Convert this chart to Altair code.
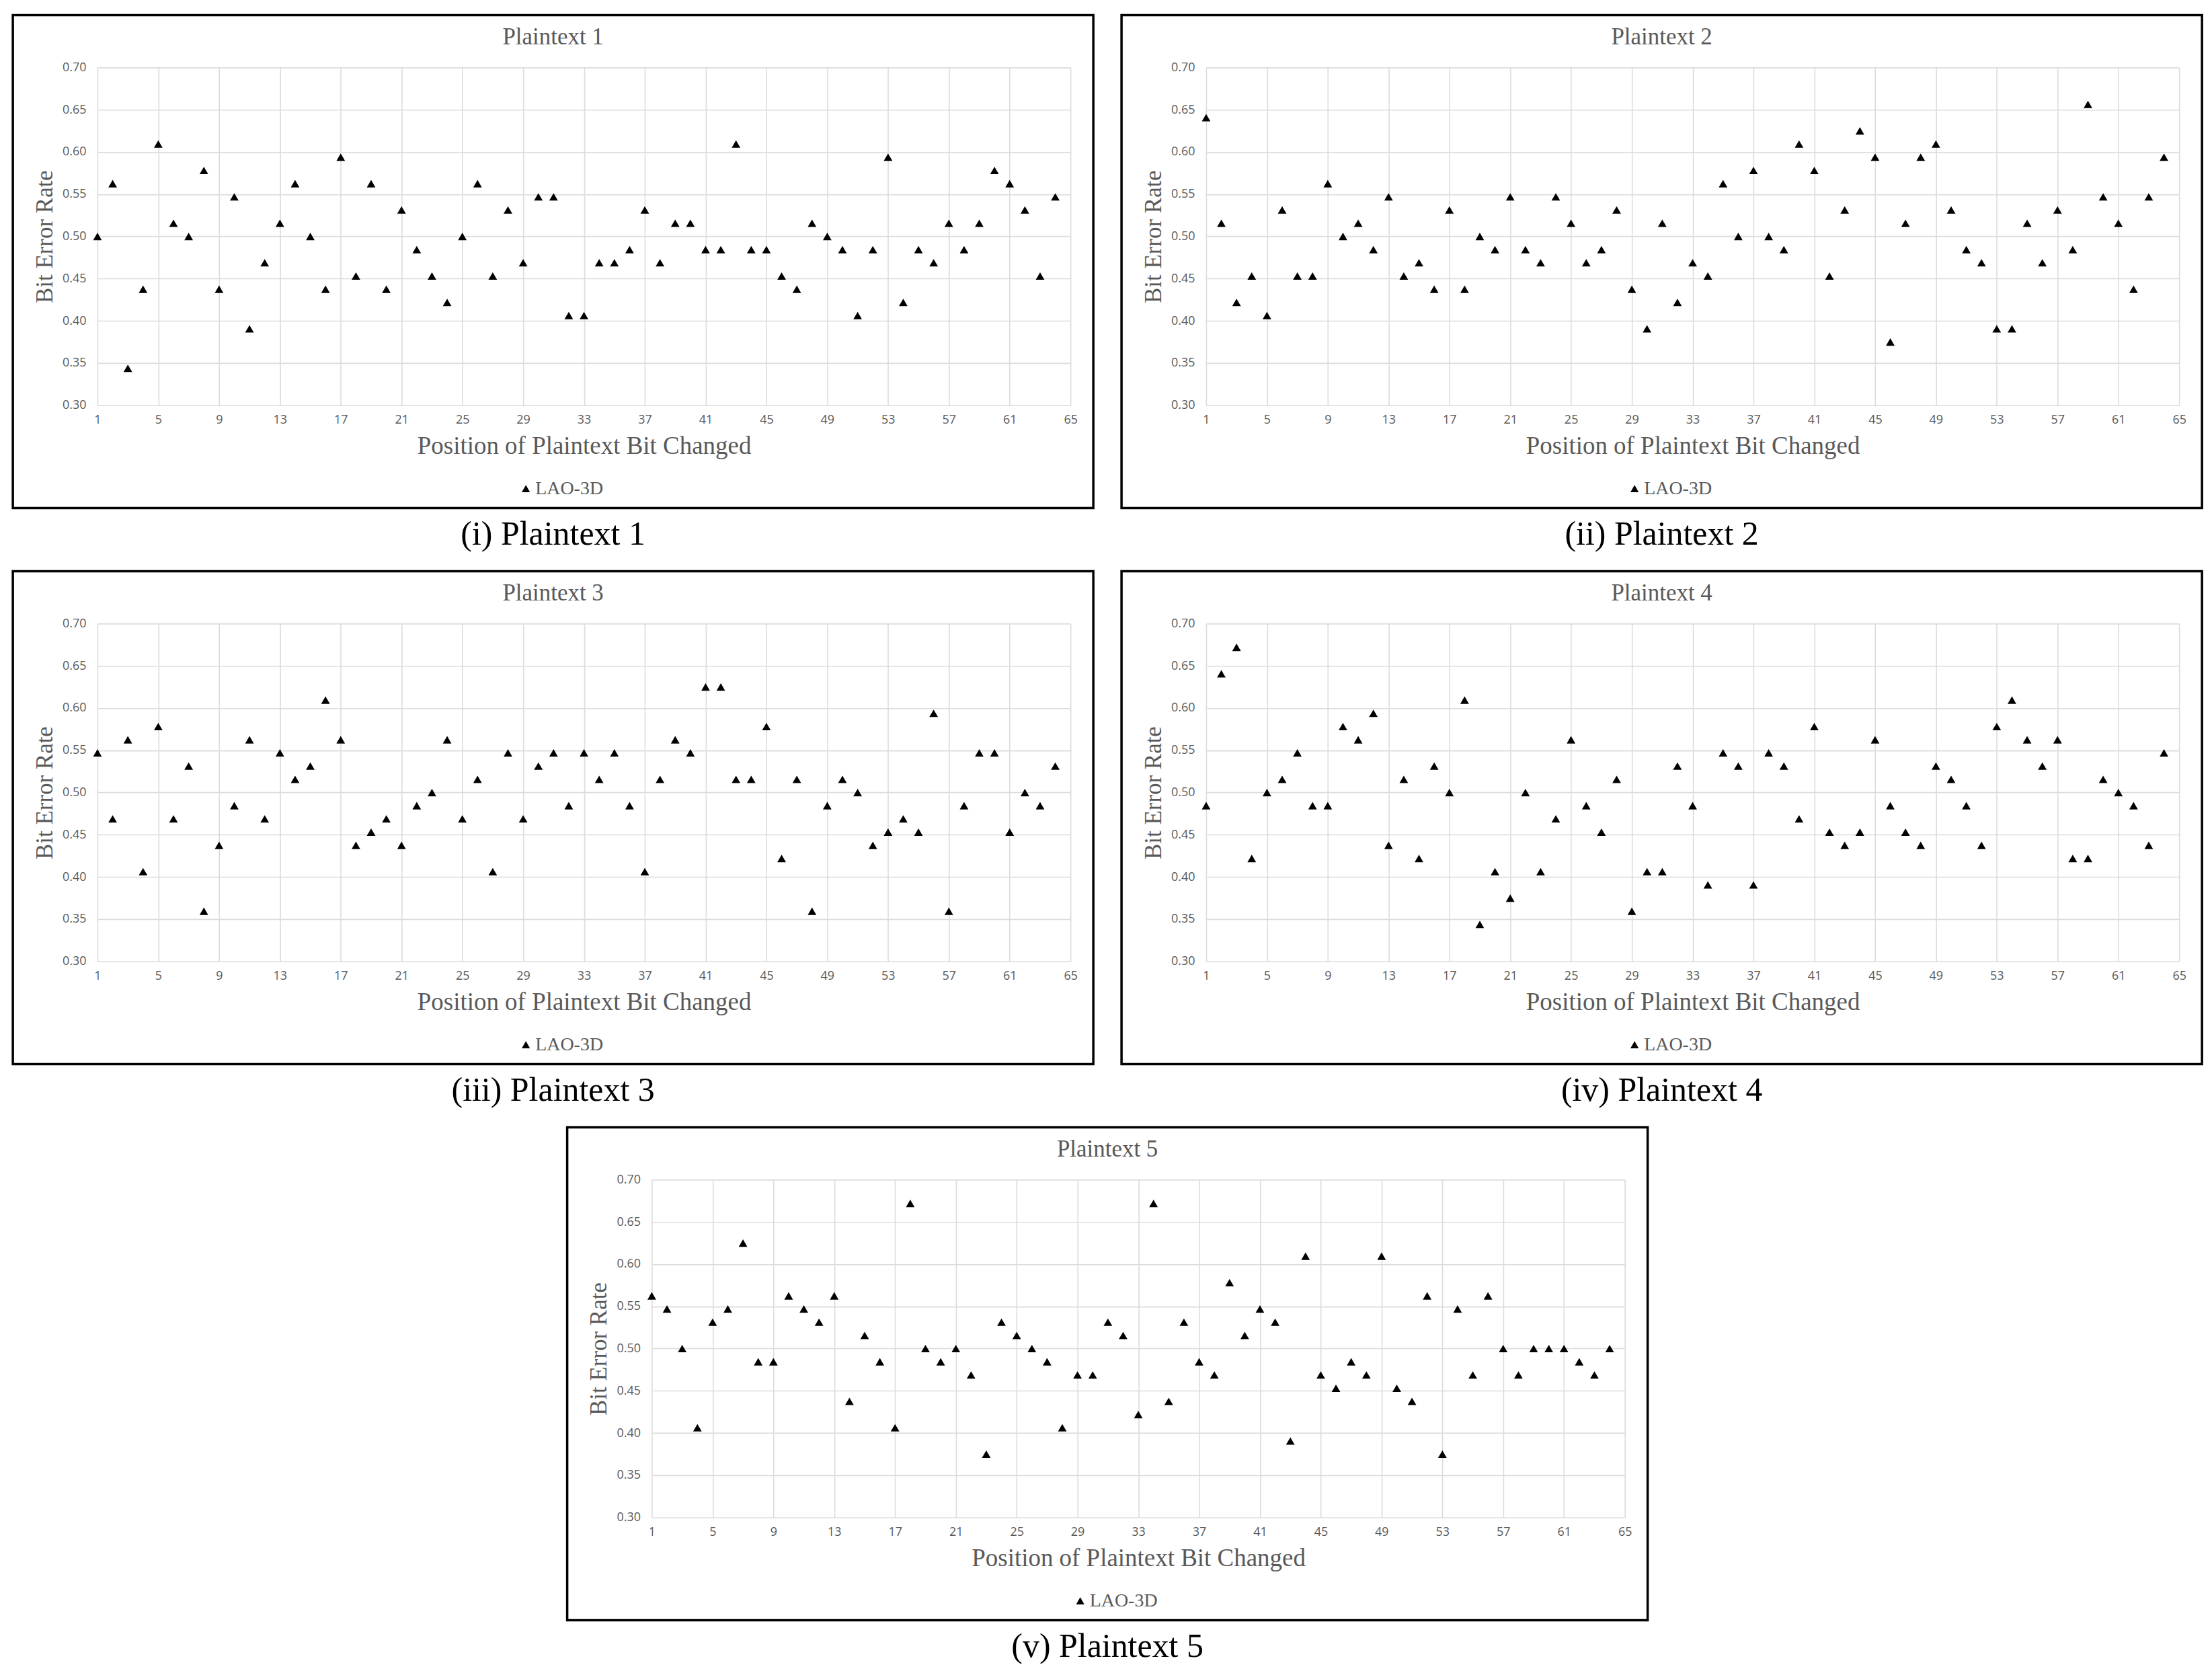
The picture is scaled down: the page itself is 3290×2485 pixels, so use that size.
import altair as alt
import pandas as pd

# ---------------- data ----------------
positions = [1, 2, 3, 4, 5, 6, 7, 8, 9, 10, 11, 12, 13, 14, 15, 16,
             17, 18, 19, 20, 21, 22, 23, 24, 25, 26, 27, 28, 29, 30, 31, 32,
             33, 34, 35, 36, 37, 38, 39, 40, 41, 42, 43, 44, 45, 46, 47, 48,
             49, 50, 51, 52, 53, 54, 55, 56, 57, 58, 59, 60, 61, 62, 63, 64]

x_ticks = [1, 5, 9, 13, 17, 21, 25, 29, 33, 37, 41, 45, 49, 53, 57, 61, 65]
y_ticks = [0.30, 0.35, 0.40, 0.45, 0.50, 0.55, 0.60, 0.65, 0.70]

series_name = "LAO-3D"

panel_titles = ["Plaintext 1", "Plaintext 2", "Plaintext 3", "Plaintext 4", "Plaintext 5"]
captions = ["(i) Plaintext 1", "(ii) Plaintext 2", "(iii) Plaintext 3",
            "(iv) Plaintext 4", "(v) Plaintext 5"]

ber_plaintext1 = [
    0.5, 0.5625, 0.3438, 0.4375, 0.6094, 0.5156, 0.5, 0.5781, 0.4375, 0.5469,
    0.3906, 0.4688, 0.5156, 0.5625, 0.5, 0.4375, 0.5938, 0.4531, 0.5625, 0.4375,
    0.5313, 0.4844, 0.4531, 0.4219, 0.5, 0.5625, 0.4531, 0.5313, 0.4688, 0.5469,
    0.5469, 0.4063, 0.4063, 0.4688, 0.4688, 0.4844, 0.5313, 0.4688, 0.5156, 0.5156,
    0.4844, 0.4844, 0.6094, 0.4844, 0.4844, 0.4531, 0.4375, 0.5156, 0.5, 0.4844,
    0.4063, 0.4844, 0.5938, 0.4219, 0.4844, 0.4688, 0.5156, 0.4844, 0.5156, 0.5781,
    0.5625, 0.5313, 0.4531, 0.5469]

ber_plaintext2 = [
    0.6406, 0.5156, 0.4219, 0.4531, 0.4063, 0.5313, 0.4531, 0.4531, 0.5625, 0.5,
    0.5156, 0.4844, 0.5469, 0.4531, 0.4688, 0.4375, 0.5313, 0.4375, 0.5, 0.4844,
    0.5469, 0.4844, 0.4688, 0.5469, 0.5156, 0.4688, 0.4844, 0.5313, 0.4375, 0.3906,
    0.5156, 0.4219, 0.4688, 0.4531, 0.5625, 0.5, 0.5781, 0.5, 0.4844, 0.6094,
    0.5781, 0.4531, 0.5313, 0.625, 0.5938, 0.375, 0.5156, 0.5938, 0.6094, 0.5313,
    0.4844, 0.4688, 0.3906, 0.3906, 0.5156, 0.4688, 0.5313, 0.4844, 0.6563, 0.5469,
    0.5156, 0.4375, 0.5469, 0.5938]

ber_plaintext3 = [
    0.5469, 0.4688, 0.5625, 0.4063, 0.5781, 0.4688, 0.5313, 0.3594, 0.4375, 0.4844,
    0.5625, 0.4688, 0.5469, 0.5156, 0.5313, 0.6094, 0.5625, 0.4375, 0.4531, 0.4688,
    0.4375, 0.4844, 0.5, 0.5625, 0.4688, 0.5156, 0.4063, 0.5469, 0.4688, 0.5313,
    0.5469, 0.4844, 0.5469, 0.5156, 0.5469, 0.4844, 0.4063, 0.5156, 0.5625, 0.5469,
    0.625, 0.625, 0.5156, 0.5156, 0.5781, 0.4219, 0.5156, 0.3594, 0.4844, 0.5156,
    0.5, 0.4375, 0.4531, 0.4688, 0.4531, 0.5938, 0.3594, 0.4844, 0.5469, 0.5469,
    0.4531, 0.5, 0.4844, 0.5313]

ber_plaintext4 = [
    0.4844, 0.6406, 0.6719, 0.4219, 0.5, 0.5156, 0.5469, 0.4844, 0.4844, 0.5781,
    0.5625, 0.5938, 0.4375, 0.5156, 0.4219, 0.5313, 0.5, 0.6094, 0.3438, 0.4063,
    0.375, 0.5, 0.4063, 0.4688, 0.5625, 0.4844, 0.4531, 0.5156, 0.3594, 0.4063,
    0.4063, 0.5313, 0.4844, 0.3906, 0.5469, 0.5313, 0.3906, 0.5469, 0.5313, 0.4688,
    0.5781, 0.4531, 0.4375, 0.4531, 0.5625, 0.4844, 0.4531, 0.4375, 0.5313, 0.5156,
    0.4844, 0.4375, 0.5781, 0.6094, 0.5625, 0.5313, 0.5625, 0.4219, 0.4219, 0.5156,
    0.5, 0.4844, 0.4375, 0.5469]

ber_plaintext5 = [
    0.5625, 0.5469, 0.5, 0.4063, 0.5313, 0.5469, 0.625, 0.4844, 0.4844, 0.5625,
    0.5469, 0.5313, 0.5625, 0.4375, 0.5156, 0.4844, 0.4063, 0.6719, 0.5, 0.4844,
    0.5, 0.4688, 0.375, 0.5313, 0.5156, 0.5, 0.4844, 0.4063, 0.4688, 0.4688,
    0.5313, 0.5156, 0.4219, 0.6719, 0.4375, 0.5313, 0.4844, 0.4688, 0.5781, 0.5156,
    0.5469, 0.5313, 0.3906, 0.6094, 0.4688, 0.4531, 0.4844, 0.4688, 0.6094, 0.4531,
    0.4375, 0.5625, 0.375, 0.5469, 0.4688, 0.5625, 0.5, 0.4688, 0.5, 0.5,
    0.5, 0.4844, 0.4688, 0.5]

all_series = [ber_plaintext1, ber_plaintext2, ber_plaintext3, ber_plaintext4, ber_plaintext5]

# ---------------- layout constants (pixels) ----------------
PW, PH = 1449, 503                 # plot area
FRAME_L, FRAME_T = -126, -78       # frame relative to plot area
FRAME_W, FRAME_H = 1609, 734
FRAME_CX = FRAME_L + FRAME_W / 2

SERIF = "Liberation Serif"
SANS = "Open Sans"
GREY = "#595959"


def panel(values, title, caption):
    df = pd.DataFrame({"pos": positions, "ber": values, "series": series_name})
    one = pd.DataFrame({"k": [0]})

    frame = alt.Chart(one).mark_rect(
        fillOpacity=0, stroke="black", strokeWidth=3.5
    ).encode(
        x=alt.value(FRAME_L), x2=alt.value(FRAME_L + FRAME_W),
        y=alt.value(FRAME_T), y2=alt.value(FRAME_T + FRAME_H),
    )

    pts = alt.Chart(df).mark_point(
        filled=True, color="black", opacity=1, size=165, strokeWidth=0
    ).encode(
        x=alt.X("pos:Q",
                scale=alt.Scale(domain=[1, 65], nice=False, zero=False),
                axis=alt.Axis(values=x_ticks, title="Position of Plaintext Bit Changed",
                              labelFlush=False, labelOverlap=False,
                              labelPadding=13, titlePadding=12)),
        y=alt.Y("ber:Q",
                scale=alt.Scale(domain=[0.30, 0.70], nice=False, zero=False),
                axis=alt.Axis(values=y_ticks, format=".2f", title="Bit Error Rate",
                              labelFlush=False, labelOverlap=False,
                              labelPadding=17, titlePadding=8)),
        shape=alt.Shape("series:N",
                        scale=alt.Scale(domain=[series_name], range=["triangle-up"]),
                        legend=alt.Legend(title=None, orient="none",
                                          legendX=624, legendY=613, padding=0,
                                          labelFont=SERIF, labelFontSize=28,
                                          labelColor=GREY, labelOffset=0,
                                          symbolSize=150, symbolFillColor="black",
                                          symbolStrokeWidth=0)),
    )

    ttl = alt.Chart(one).mark_text(
        text=title, font=SERIF, fontSize=35, color=GREY, baseline="middle", align="center"
    ).encode(x=alt.value(FRAME_CX), y=alt.value(-45))

    cap = alt.Chart(one).mark_text(
        text=caption, font=SERIF, fontSize=50, color="black", baseline="middle", align="center"
    ).encode(x=alt.value(FRAME_CX), y=alt.value(695))

    return alt.layer(frame, pts, ttl, cap).properties(width=PW, height=PH)


panels = [panel(v, t, c) for v, t, c in zip(all_series, panel_titles, captions)]

row1 = alt.hconcat(panels[0], panels[1], spacing=38).resolve_scale(shape="independent")
row2 = alt.hconcat(panels[2], panels[3], spacing=38).resolve_scale(shape="independent")

chart = alt.vconcat(
    row1, row2, panels[4], spacing=28, center=True
).resolve_scale(shape="independent").properties(
    padding={"left": 9, "top": 11, "right": 5, "bottom": 5},
    background="white",
).configure_view(
    strokeWidth=0
).configure_axis(
    labelFont=SANS, labelFontSize=18, labelColor=GREY,
    titleFont=SERIF, titleFontSize=37, titleColor=GREY, titleFontWeight="normal",
    domain=False, ticks=False, grid=True, gridColor="#dcdcdc", gridWidth=1.6,
).configure_axisY(
    titleFontSize=35
)

chart.save("out.html", embed_options={"renderer": "svg", "actions": False})
